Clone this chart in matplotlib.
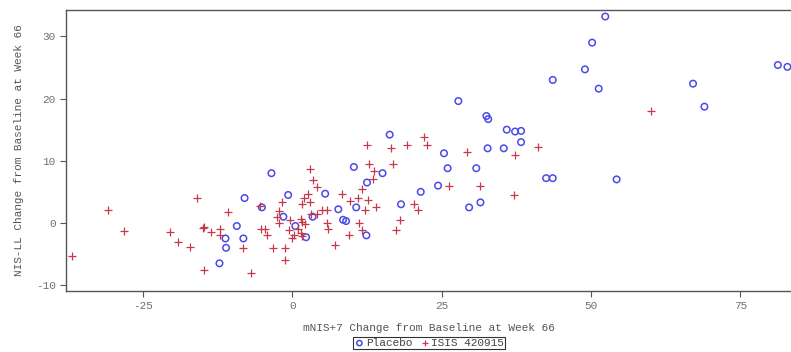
import matplotlib
matplotlib.use("Agg")
import matplotlib.pyplot as plt

placebo_x = [-12.2, -11.2, -11.1, -9.3, -8.2, -8.0, -5.1, -3.5, -1.5, -0.7, 0.5, 2.3, 3.4, 5.5,
             7.7, 8.5, 9.0, 10.3, 10.7, 12.4, 12.5, 15.1, 16.3, 18.2, 21.5, 24.4, 25.4, 26.0,
             27.8, 29.6, 30.8, 31.5, 32.5, 32.8, 32.7, 35.4, 35.9, 37.3, 38.3, 38.3, 42.5,
             43.6, 43.6, 49.0, 50.2, 51.3, 52.4, 54.3, 67.1, 69.0, 81.3, 82.9]
placebo_y = [-6.5, -2.5, -4.0, -0.5, -2.5, 4.0, 2.5, 8.0, 1.0, 4.5, -0.5, -2.3, 1.0, 4.7,
             2.2, 0.5, 0.3, 9.0, 2.5, -2.0, 6.5, 8.0, 14.2, 3.0, 5.0, 6.0, 11.2, 8.8,
             19.6, 2.5, 8.8, 3.3, 17.2, 16.7, 12.0, 12.0, 15.0, 14.7, 14.8, 13.0, 7.2,
             7.2, 23.0, 24.7, 29.0, 21.6, 33.2, 7.0, 22.4, 18.7, 25.4, 25.1]

isis_x = [-36.9, -30.9, -28.2, -20.5, -19.1, -17.1, -16.0, -14.8, -14.9, -14.8, -13.7, -12.1,
          -12.1, -10.7, -8.3, -7.0, -5.4, -5.3, -4.6, -4.3, -3.2, -2.2, -1.8, -2.5, -2.2,
          -1.2, -1.3, -0.4, -0.6, 0.0, 0.2, 1.0, 1.5, 1.6, 1.9, 1.7, 1.5, 1.7, 2.2, 2.7,
          2.9, 3.0, 3.1, 3.5, 4.2, 4.2, 5.0, 5.8, 5.8, 6.0, 7.1, 8.3, 9.5, 9.7, 11.0,
          11.2, 11.6, 11.6, 12.2, 12.5, 12.6, 12.9, 13.5, 13.7, 14.0, 16.5, 16.9, 17.4,
          18.0, 19.2, 20.3, 21.0, 22.0, 22.5, 29.2, 26.3, 31.5, 37.3, 41.2, 37.2, 60.0]
isis_y = [-5.3, 2.0, -1.3, -1.5, -3.0, -3.8, 4.0, -0.6, -0.8, -7.5, -1.5, -1.0,
          -2.0, 1.8, -4.0, -8.0, 2.7, -1.0, -1.0, -2.0, -4.0, 1.9, 3.4, 1.0, 0.0,
          -4.0, -6.0, 0.5, -1.1, -2.4, -1.9, -0.9, 0.7, 3.0, 4.0, 0.1, -1.6, -2.1, -0.1, 4.6,
          8.6, 3.4, 1.5, 6.9, 5.8, 1.5, 2.1, 2.0, 0.0, -1.0, -3.5, 4.6, -2.0, 3.5, 4.0,
          0.0, -1.1, 5.5, 2.0, 12.5, 3.7, 9.5, 7.0, 8.4, 2.5, 12.0, 9.5, -1.2,
          0.5, 12.5, 3.1, 2.0, 13.9, 12.5, 11.4, 6.0, 6.0, 11.0, 12.2, 4.5, 18.0]

x_ticks = [-25, 0, 25, 50, 75]
y_ticks = [-10, 0, 10, 20, 30]
x_label = "mNIS+7 Change from Baseline at Week 66"
y_label = "NIS-LL Change from Baseline at Week 66"
series_names = ["Placebo", "ISIS 420915"]

plt.rcParams['font.family'] = ['Liberation Mono', 'DejaVu Sans Mono']
plt.rcParams['axes.unicode_minus'] = False

fig = plt.figure(figsize=(7.91, 3.52), dpi=100)
ax = fig.add_axes([66/791, 1 - 291/352, 1 - 66/791, (291 - 10)/352])

blue = '#4a4ae8'
red = '#c8384c'
ax.scatter(placebo_x, placebo_y, s=22, facecolors='none', edgecolors=blue,
           linewidths=1.1, marker='o', label=series_names[0], zorder=3)
ax.scatter(isis_x, isis_y, s=30, c=red, linewidths=0.9, marker='+',
           label=series_names[1], zorder=3)

ax.set_xlim(-37.9, 83.5)
ax.set_ylim(-10.95, 34.25)
ax.set_xticks(x_ticks)
ax.set_yticks(y_ticks)

spine_color = '#555555'
for side in ['left', 'bottom', 'top']:
    ax.spines[side].set_color(spine_color)
    ax.spines[side].set_linewidth(1.0)
ax.spines['right'].set_visible(False)
ax.tick_params(axis='both', colors=spine_color, labelcolor='#707070', labelsize=8,
               length=4, width=0.8, direction='out')

ax.set_xlabel(x_label, fontsize=8, color='#555555', labelpad=8)
ax.set_ylabel(y_label, fontsize=8, color='#555555', labelpad=8.5)

leg = fig.legend(loc='center', bbox_to_anchor=(429/791, 1 - 343/352), ncol=2,
                 fontsize=8, frameon=True, fancybox=False, edgecolor='black',
                 borderpad=0.1, handletextpad=0.1, columnspacing=0.6,
                 handlelength=1.0, borderaxespad=0, markerscale=0.8)
leg.get_frame().set_linewidth(0.8)
for t in leg.get_texts():
    t.set_color('#444444')

fig.savefig('out.png', dpi=100)
